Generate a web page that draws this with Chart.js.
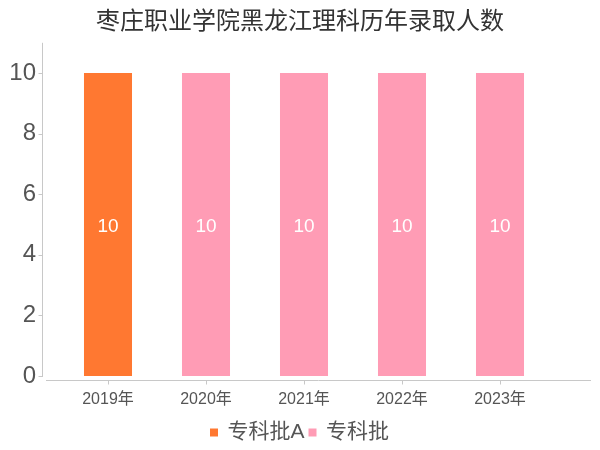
<!DOCTYPE html>
<html>
<head>
<meta charset="utf-8">
<script src="https://cdn.jsdelivr.net/npm/chart.js@4/dist/chart.umd.min.js"></script>
<style>
  html, body { margin: 0; padding: 0; background: #fff; }
  #wrap { width: 600px; height: 450px; }
</style>
</head>
<body>
<div id="wrap"><canvas id="chart" width="600" height="450"></canvas></div>
<script>
// ---- data ----
const years = ['2019年', '2020年', '2021年', '2022年', '2023年'];
const seriesA = [10, null, null, null, null];   // 专科批A
const seriesB = [null, 10, 10, 10, 10];         // 专科批
const yTicks = [0, 2, 4, 6, 8, 10];

const FONT = '"Liberation Sans", "Noto Sans CJK SC", sans-serif';
const AXIS_COLOR = '#c8c8c8';

// axis lines drawn slightly detached from the plot, like the original
const axisLines = {
  id: 'axisLines',
  afterDraw(chart) {
    const { ctx, chartArea, scales: { x, y } } = chart;
    ctx.save();
    ctx.strokeStyle = AXIS_COLOR;
    ctx.lineWidth = 1;
    ctx.beginPath();
    const yx = Math.round(chartArea.left - 17) + 0.5;
    ctx.moveTo(yx, chartArea.top);
    ctx.lineTo(yx, chartArea.bottom + 1);
    y.ticks.forEach(t => {
      const py = Math.round(y.getPixelForValue(t.value)) + 0.5;
      ctx.moveTo(yx - 4, py);
      ctx.lineTo(yx, py);
    });
    const xy = Math.round(chartArea.bottom + 4) + 0.5;
    ctx.moveTo(chartArea.left - 13, xy);
    ctx.lineTo(chartArea.right + 42, xy);
    x.ticks.forEach((t, i) => {
      const px = Math.round(x.getPixelForTick(i)) + 0.5;
      ctx.moveTo(px, xy);
      ctx.lineTo(px, xy + 4);
    });
    ctx.stroke();
    ctx.restore();
  }
};

// value labels in the middle of each bar
const barLabels = {
  id: 'barLabels',
  afterDatasetsDraw(chart) {
    const ctx = chart.ctx;
    ctx.save();
    ctx.fillStyle = '#fff';
    ctx.font = '19px ' + FONT;
    ctx.textAlign = 'center';
    ctx.textBaseline = 'middle';
    chart.data.datasets.forEach((ds, di) => {
      chart.getDatasetMeta(di).data.forEach((bar, i) => {
        if (ds.data[i] == null) return;
        ctx.fillText(ds.data[i], bar.x, (bar.y + bar.base) / 2 + 2);
      });
    });
    ctx.restore();
  }
};

new Chart(document.getElementById('chart'), {
  type: 'bar',
  data: {
    labels: years,
    datasets: [
      { label: '专科批A', data: seriesA, backgroundColor: '#ff7831' },
      { label: '专科批', data: seriesB, backgroundColor: '#ff9cb5' }
    ]
  },
  options: {
    responsive: false,
    animation: false,
    events: [],
    barPercentage: 0.49,
    categoryPercentage: 1,
    layout: { padding: { left: 10, right: 10, top: 0, bottom: -3 } },
    scales: {
      x: {
        stacked: true,
        afterFit(scale) { scale.height = 41; },
        grid: { display: false, drawTicks: false },
        border: { display: false },
        ticks: { color: '#555', font: { size: 16, family: FONT }, padding: 14 }
      },
      y: {
        stacked: true,
        min: 0,
        max: 11,
        afterFit(scale) { scale.width = 49; },
        afterBuildTicks(scale) { scale.ticks = yTicks.map(v => ({ value: v })); },
        grid: { display: false, drawTicks: false },
        border: { display: false },
        ticks: { color: '#555', font: { size: 24, family: FONT }, padding: 23 }
      },
      // empty right-hand spacer so the plot ends where the original does
      y2: {
        position: 'right',
        afterFit(scale) { scale.width = 41; },
        grid: { display: false, drawTicks: false },
        border: { display: false },
        ticks: { display: false }
      }
    },
    plugins: {
      title: {
        display: true,
        text: '枣庄职业学院黑龙江理科历年录取人数',
        color: '#333',
        font: { size: 24, weight: 'normal', family: FONT },
        padding: { top: 8, bottom: 6 }
      },
      legend: {
        position: 'bottom',
        labels: {
          color: '#555',
          font: { size: 21, family: FONT },
          usePointStyle: true,
          pointStyle: 'rect',
          boxWidth: 6,
          boxHeight: 8,
          padding: 5
        }
      },
      tooltip: { enabled: false }
    }
  },
  plugins: [axisLines, barLabels]
});
</script>
</body>
</html>
